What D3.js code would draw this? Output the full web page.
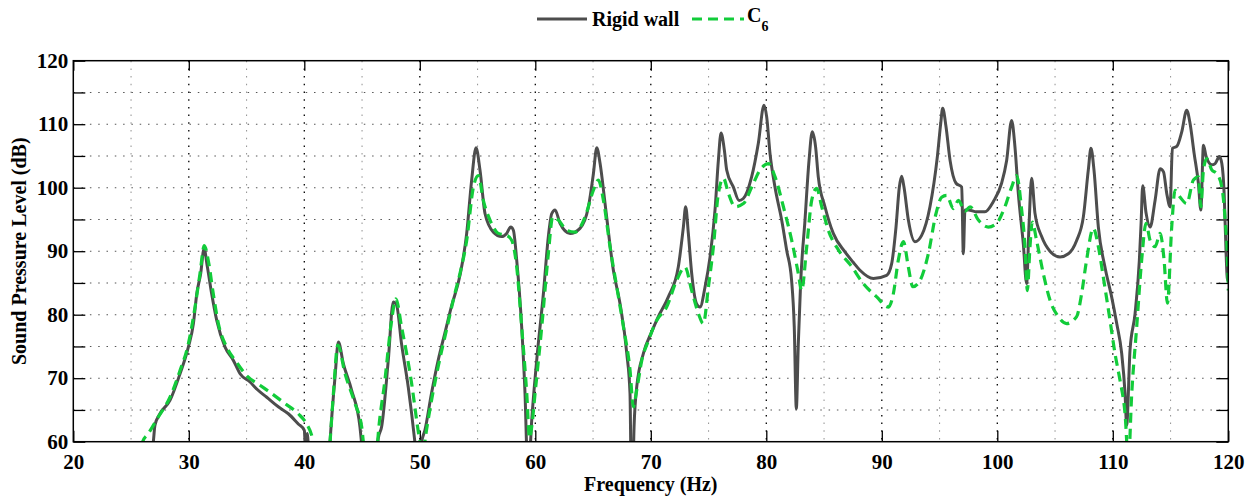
<!DOCTYPE html>
<meta charset="utf-8">
<style>
body { margin: 0; background: #fff; }
svg { display: block; }
text { font-family: "Liberation Serif", "Times New Roman", serif; font-weight: bold; fill: #000; }
.tick text { font-size: 21px; }
.grid-major line { stroke: #000; stroke-width: 1.3; stroke-dasharray: 1.5,6.2; }
.grid-minor line { stroke: #999; stroke-width: 1.1; stroke-dasharray: 1.5,6.2; }
.grid-h line { stroke: #555; stroke-width: 1.1; stroke-dasharray: 1.5,6.8; }
</style>
<svg width="1258" height="498"></svg>
<script src="https://cdn.jsdelivr.net/npm/d3@7"></script>
<script>

// frequency (Hz), SPL (dB)
var rigidWall = [
  [26.5,55],[26.93,60],[27.07,62.6],[27.5,64.4],[28.37,66.5],[29.24,70.7],[29.96,74.9],[30.4,78.6],
  [30.69,83.3],[31.03,86.5],[31.32,90.4],[31.61,87.5],[31.98,83.3],[32.42,79.1],[33.14,74.9],[33.86,72.8],
  [34.44,70.7],[35.3,69.4],[35.88,68.3],[36.75,67.0],[37.75,65.5],[38.62,64.4],[39.48,62.8],[40.0,61.8],
  [40.1,59],[40.25,61.3],[40.4,58],[41.2,45],[42.1,56],[42.23,60],[42.66,70.2],[42.95,75.7],[43.38,72.3],
  [44.1,68.1],[44.82,62.3],[45.0,59],[45.7,45],[46.2,57],[46.4,60.5],[46.69,62.3],[47.27,72.8],[47.7,82.0],
  [47.99,81.5],[48.42,75.4],[49.0,68.6],[49.57,60],[49.85,55],[50.16,60],[50.44,61.8],[51.01,67.6],
  [51.59,72.8],[52.17,77.1],[52.74,81.3],[53.48,86.2],[54.06,92.8],[54.49,101.2],[54.87,106.3],[55.21,102.8],
  [55.65,95.9],[56.37,93.0],[57.09,92.3],[57.52,92.8],[57.87,93.8],[58.1,93.3],[58.39,88.6],[58.82,78.1],
  [59.11,67.6],[59.3,58],[59.5,58],[59.69,63.4],[60.12,72.8],[60.7,83.3],[61.13,92.3],[61.42,95.9],
  [61.71,96.5],[62.14,94.4],[63.01,92.8],[63.87,93.6],[64.6,97.0],[65.03,102.2],[65.32,106.3],[65.61,103.8],
  [66.04,97.5],[66.76,87.0],[67.34,81.7],[67.92,73.9],[68.2,67.6],[68.3,56],[68.45,56],[68.55,62.3],
  [68.78,68.6],[69.36,73.9],[70.08,77.3],[70.6,79.5],[71.52,82.8],[72.38,87.5],[72.82,93.8],[73.02,97.0],
  [73.25,92.8],[73.54,86.5],[73.97,81.7],[74.26,81.2],[74.7,84.4],[75.13,89.1],[75.56,96.5],[75.85,104.3],
  [76.08,108.6],[76.37,105.9],[76.57,102.8],[77.15,100.1],[77.64,98.0],[78.01,98.3],[78.73,101.7],
  [79.31,107.0],[79.8,113.0],[80.03,111.2],[80.32,105.4],[80.75,100.1],[81.33,94.9],[81.76,90.2],
  [82.19,85.4],[82.42,78.1],[82.6,65.2],[82.77,75.4],[82.97,84.9],[83.35,94.9],[83.7,104.3],[83.98,108.8],
  [84.27,106.4],[84.5,101.7],[85.08,97.0],[85.8,92.8],[86.81,89.9],[87.5,88.3],[88.11,87.0],[89.27,85.7],
  [90.42,86.2],[90.85,88.0],[91.23,93.8],[91.52,100.1],[91.72,101.8],[91.92,100.1],[92.3,94.9],[92.87,91.5],
  [93.45,92.5],[94.17,97.0],[94.81,104.9],[95.1,110.1],[95.27,112.5],[95.56,109.6],[95.91,104.3],
  [96.43,100.7],[96.92,100.1],[97.06,89.6],[97.2,96.5],[97.49,96.5],[98.21,96.2],[98.93,96.2],[99.65,97.8],
  [100.37,100.7],[100.81,104.3],[101.24,110.6],[101.53,106.4],[101.82,99.1],[102.25,91.2],[102.54,84.9],
  [102.74,93.8],[102.97,101.5],[103.26,96.0],[103.84,92.3],[104.56,90.0],[105.43,89.1],[106.15,89.6],
  [106.87,91.7],[107.45,95.4],[107.88,102.8],[108.11,106.2],[108.37,102.8],[108.75,93.8],[109.32,87.5],
  [109.9,82.8],[110.34,78.6],[110.77,73.9],[111.06,67.6],[111.2,62.6],[111.49,74.4],[111.93,80.2],
  [112.3,88.6],[112.45,94.4],[112.59,100.3],[112.88,96.0],[113.23,93.8],[113.66,98.0],[114.1,103.0],
  [114.39,102.5],[114.67,99.1],[114.96,97.0],[115.16,106.2],[115.54,106.5],[115.97,108.8],[116.4,112.2],
  [116.69,110.1],[117.04,105.4],[117.41,100.7],[117.62,96.5],[117.85,106.7],[118.08,104.9],[118.57,103.6],
  [118.86,103.8],[119.23,104.9],[119.44,103.8],[119.64,99.1],[119.81,89.6],[119.93,85.4],[120,87.5]
];

var c6 = [
  [25.6,57],[26.0,60],[26.5,61.3],[27.36,63.9],[28.37,67.0],[29.24,71.2],[29.96,75.4],[30.54,81.2],
  [30.97,86.5],[31.34,90.9],[31.69,88.5],[32.12,83.3],[32.56,78.6],[33.28,74.9],[34.14,72.5],[35.01,70.4],
  [36.16,68.9],[37.17,67.6],[38.33,66.0],[39.48,64.4],[40.2,62.8],[40.64,61.0],[40.78,60],[41.3,50],
  [42.0,55],[42.23,60],[42.52,67.6],[42.9,75.2],[43.53,70.7],[44.39,66.0],[44.97,62.3],[45.11,60],
  [45.7,48],[46.2,56],[46.35,60],[46.98,69.7],[47.56,79.1],[47.93,82.5],[48.42,78.1],[49.29,69.2],
  [49.81,62.3],[50.0,60],[50.25,57],[50.44,60],[50.87,65.0],[51.59,71.8],[52.31,77.6],[53.03,83.3],
  [53.48,86.5],[54.06,91.7],[54.64,100.1],[55.07,101.9],[55.5,98.0],[56.08,94.9],[56.8,92.8],[57.52,92.5],
  [57.96,91.7],[58.39,87.5],[58.82,78.1],[59.26,67.6],[59.5,60.6],[59.7,62.5],[59.98,67.6],[60.56,78.1],
  [61.13,89.6],[61.51,95.4],[62.0,94.9],[62.72,93.3],[63.44,93.0],[64.31,95.4],[65.03,99.6],[65.46,101.2],
  [65.9,98.0],[66.47,90.7],[67.05,84.4],[67.63,78.1],[68.2,71.3],[68.49,65.5],[68.78,68.1],[69.22,72.8],
  [69.79,75.9],[70.51,79.1],[71.37,81.2],[72.24,85.4],[72.96,87.5],[73.54,83.8],[74.12,80.2],[74.55,78.6],
  [74.99,84.4],[75.42,90.7],[75.85,99.1],[76.29,101.5],[76.72,99.1],[77.3,97.0],[78.02,97.5],[78.74,100.1],
  [79.46,102.8],[80.18,103.8],[80.76,101.7],[81.48,97.0],[82.2,91.7],[82.77,86.5],[83.06,83.8],[83.5,90.7],
  [83.93,98.0],[84.36,99.9],[84.8,97.0],[85.37,93.3],[86.24,90.2],[87.3,87.8],[88.4,84.9],[89.56,82.8],
  [90.57,81.2],[91.0,83.3],[91.43,88.6],[91.87,91.5],[92.3,87.5],[92.68,84.4],[93.31,85.4],[94.03,89.6],
  [94.69,95.9],[95.18,98.5],[95.62,98.8],[96.2,96.7],[96.63,98.0],[97.2,96.3],[97.64,97.0],[98.36,94.9],
  [99.22,93.8],[99.94,94.4],[100.66,97.0],[101.24,100.1],[101.67,101.9],[102.11,96.5],[102.4,90.7],
  [102.6,83.8],[102.83,90.7],[103.03,94.6],[103.4,91.7],[103.98,86.5],[104.56,82.3],[105.28,79.7],
  [106.0,78.6],[106.87,79.7],[107.3,83.3],[107.73,88.6],[108.31,93.6],[108.75,90.7],[109.18,85.9],
  [109.76,79.1],[110.19,73.9],[110.62,69.7],[111.06,64.4],[111.35,57],[111.64,67.6],[112.07,78.1],
  [112.5,88.6],[112.88,94.4],[113.23,91.7],[113.66,90.7],[114.1,92.8],[114.44,88.6],[114.73,81.8],
  [115.1,93.8],[115.39,99.6],[115.83,98.5],[116.4,97.5],[116.98,101.2],[117.41,101.7],[117.62,97.0],
  [117.85,102.8],[118.14,104.6],[118.57,102.8],[119.01,102.2],[119.44,100.1],[119.73,94.9],[119.93,88.6],
  [120,83.8]
];

var xTicks = [20, 30, 40, 50, 60, 70, 80, 90, 100, 110, 120],
    xMinor = [25, 35, 45, 55, 65, 75, 85, 95, 105, 115],
    yTicks = [60, 65, 70, 75, 80, 85, 90, 95, 100, 105, 110, 115, 120],
    yLabels = [60, 70, 80, 90, 100, 110, 120];

var svg = d3.select("svg"),
    margin = {top: 60.7, right: 29.7, bottom: 56.3, left: 73.3},
    width = +svg.attr("width") - margin.left - margin.right,
    height = +svg.attr("height") - margin.top - margin.bottom;

var x = d3.scaleLinear().domain([20, 120]).range([0, width]),
    y = d3.scaleLinear().domain([60, 120]).range([height, 0]);

var g = svg.append("g")
    .attr("transform", "translate(" + margin.left + "," + margin.top + ")");

g.append("clipPath").attr("id", "clip")
  .append("rect").attr("width", width).attr("height", height);

// grid
g.append("g").attr("class", "grid-minor")
  .selectAll("line").data(xMinor).enter().append("line")
    .attr("x1", x).attr("x2", x).attr("y1", 0).attr("y2", height);

g.append("g").attr("class", "grid-h")
  .selectAll("line").data(yTicks.slice(1, -1)).enter().append("line")
    .attr("x1", 0).attr("x2", width).attr("y1", y).attr("y2", y);

g.append("g").attr("class", "grid-major")
  .selectAll("line").data(xTicks.slice(1, -1)).enter().append("line")
    .attr("x1", x).attr("x2", x).attr("y1", 0).attr("y2", height);

// axes
var fmtY = function(d) { return yLabels.indexOf(d) >= 0 ? d : ""; };

g.append("g")
    .attr("transform", "translate(0," + height + ")")
    .call(d3.axisBottom(x).tickValues(xTicks).tickSize(-11).tickPadding(12))
    .call(function(a) { a.select(".domain").remove(); a.selectAll("line").attr("stroke-width", 1.3); });

g.append("g")
    .call(d3.axisTop(x).tickValues(xTicks).tickSize(-10).tickFormat(""))
    .call(function(a) { a.select(".domain").remove(); a.selectAll("line").attr("stroke-width", 1.3); });

g.append("g")
    .call(d3.axisLeft(y).tickValues(yTicks).tickSize(-12).tickPadding(5).tickFormat(fmtY))
    .call(function(a) { a.select(".domain").remove(); a.selectAll("line").attr("stroke-width", 1.3); });

g.append("g")
    .attr("transform", "translate(" + width + ",0)")
    .call(d3.axisRight(y).tickValues(yTicks).tickSize(-12).tickFormat(""))
    .call(function(a) { a.select(".domain").remove(); a.selectAll("line").attr("stroke-width", 1.3); });

g.selectAll(".tick text").attr("fill", "#000");

// curves
var line = d3.line()
    .curve(d3.curveMonotoneX)
    .x(function(d) { return x(d[0]); })
    .y(function(d) { return y(d[1]); });

var curves = g.append("g").attr("clip-path", "url(#clip)");

curves.append("path")
    .datum(rigidWall)
    .attr("d", line)
    .attr("fill", "none")
    .attr("stroke", "#4d4d4d")
    .attr("stroke-width", 3)
    .attr("stroke-linejoin", "round");

curves.append("path")
    .datum(c6)
    .attr("d", line)
    .attr("fill", "none")
    .attr("stroke", "#12cc3a")
    .attr("stroke-width", 3.2)
    .attr("stroke-dasharray", "10,6");

// frame
g.append("rect")
    .attr("width", width).attr("height", height)
    .attr("fill", "none").attr("stroke", "#000").attr("stroke-width", 1.5);

// axis labels
svg.append("text")
    .attr("x", margin.left + width / 2)
    .attr("y", 491)
    .attr("text-anchor", "middle")
    .style("font-size", "20px")
    .text("Frequency (Hz)");

svg.append("text")
    .attr("transform", "translate(26," + (margin.top + height / 2) + ") rotate(-90)")
    .attr("text-anchor", "middle")
    .style("font-size", "20px")
    .text("Sound Pressure Level (dB)");

// legend
var legend = svg.append("g");
legend.append("line")
    .attr("x1", 537).attr("x2", 587).attr("y1", 19).attr("y2", 19)
    .attr("stroke", "#4d4d4d").attr("stroke-width", 3);
legend.append("text")
    .attr("x", 592).attr("y", 26)
    .style("font-size", "20px")
    .text("Rigid wall");
legend.append("line")
    .attr("x1", 692).attr("x2", 744).attr("y1", 19).attr("y2", 19)
    .attr("stroke", "#12cc3a").attr("stroke-width", 3.2)
    .attr("stroke-dasharray", "10,6");
var c6Label = legend.append("text")
    .attr("x", 747).attr("y", 22)
    .style("font-size", "20px");
c6Label.append("tspan").text("C");
c6Label.append("tspan").attr("dy", 9).style("font-size", "14px").text("6");

</script>
